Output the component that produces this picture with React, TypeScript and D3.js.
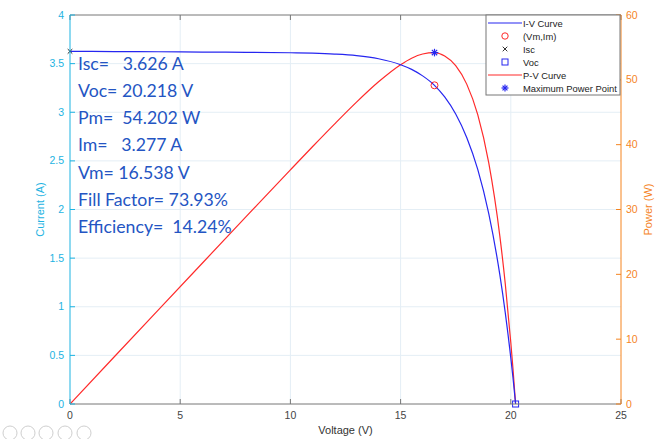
import React from "react"
import * as d3 from "d3"

// values
const voltage = [0, 2, 4, 6, 8, 10, 11, 12, 13, 14, 15, 15.5, 16, 16.538, 17, 17.5, 18, 18.5, 19, 19.5, 19.75, 20, 20.1, 20.218]
const current = [3.626, 3.624, 3.622, 3.619, 3.616, 3.612, 3.607, 3.598, 3.582, 3.55, 3.489, 3.441, 3.374, 3.277, 3.157, 2.982, 2.741, 2.412, 1.957, 1.332, 0.937, 0.474, 0.268, 0]
const power = [0, 7.248, 14.488, 21.714, 28.928, 36.12, 39.677, 43.176, 46.566, 49.7, 52.335, 53.336, 53.984, 54.202, 53.669, 52.185, 49.338, 44.622, 37.183, 25.974, 18.506, 9.48, 5.387, 0]

const xTicks = [0, 5, 10, 15, 20, 25]
const currentTicks = [0, 0.5, 1, 1.5, 2, 2.5, 3, 3.5, 4]
const powerTicks = [0, 10, 20, 30, 40, 50, 60]

const isc = 3.626
const voc = 20.218
const vm = 16.538
const im = 3.277
const pm = 54.202

const stats = [
  "Isc=   3.626 A",
  "Voc= 20.218 V",
  "Pm=  54.202 W",
  "Im=   3.277 A",
  "Vm= 16.538 V",
  "Fill Factor= 73.93%",
  "Efficiency=  14.24%",
]

const legendItems = ["I-V Curve", "(Vm,Im)", "Isc", "Voc", "P-V Curve", "Maximum Power Point"]

const W = 664
const H = 439
const left = 70
const right = 621
const top = 15
const bottom = 404

const CYAN = "#1db3e2"
const ORANGE = "#f5841f"
const BLUE = "#2626f0"
const RED = "#ff2a2a"
const TEXT_BLUE = "#2455c3"
const font = "'Liberation Sans', Arial, sans-serif"

export default function App() {
  const x = d3.scaleLinear().domain([0, 25]).range([left, right])
  const yI = d3.scaleLinear().domain([0, 4]).range([bottom, top])
  const yP = d3.scaleLinear().domain([0, 60]).range([bottom, top])

  const ivLine = d3.line<number>()
    .x((_, i) => x(voltage[i]))
    .y(d => yI(d))
    .curve(d3.curveMonotoneX)
  const pvLine = d3.line<number>()
    .x((_, i) => x(voltage[i]))
    .y(d => yP(d))
    .curve(d3.curveMonotoneX)

  const asterisk = (cx: number, cy: number, r: number, color: string) => (
    <g stroke={color} strokeWidth={1.2}>
      <line x1={cx - r} y1={cy} x2={cx + r} y2={cy} />
      <line x1={cx} y1={cy - r} x2={cx} y2={cy + r} />
      <line x1={cx - r * 0.7} y1={cy - r * 0.7} x2={cx + r * 0.7} y2={cy + r * 0.7} />
      <line x1={cx - r * 0.7} y1={cy + r * 0.7} x2={cx + r * 0.7} y2={cy - r * 0.7} />
    </g>
  )
  const cross = (cx: number, cy: number, r: number, color: string) => (
    <g stroke={color} strokeWidth={1}>
      <line x1={cx - r} y1={cy - r} x2={cx + r} y2={cy + r} />
      <line x1={cx - r} y1={cy + r} x2={cx + r} y2={cy - r} />
    </g>
  )

  // legend layout
  const lgX = 486, lgY = 15, lgW = 134, lgH = 80, rowH = 13
  const legendMarker = (i: number, cy: number) => {
    const mx = 505
    if (i === 0) return <line x1={488} x2={522} y1={cy} y2={cy} stroke={BLUE} strokeWidth={1.2} />
    if (i === 1) return <circle cx={mx} cy={cy} r={3.2} fill="none" stroke={RED} strokeWidth={1} />
    if (i === 2) return cross(mx, cy, 2.3, "#333")
    if (i === 3) return <rect x={mx - 3} y={cy - 3} width={6} height={6} fill="none" stroke={BLUE} strokeWidth={1} />
    if (i === 4) return <line x1={488} x2={522} y1={cy} y2={cy} stroke={RED} strokeWidth={1.2} />
    return asterisk(mx, cy, 3.5, BLUE)
  }

  const icons = [10, 28, 46, 65, 84]

  return (
    <div style={{ position: "absolute", left: 0, top: 0 }}>
      <svg width={W} height={H} style={{ display: "block", background: "#fff" }} fontFamily={font}>
        {/* grid */}
        <g stroke="#e4eef5" strokeWidth={1}>
          {xTicks.slice(1, -1).map(t => (
            <line key={"gx" + t} x1={x(t)} x2={x(t)} y1={top} y2={bottom} />
          ))}
          {currentTicks.slice(1, -1).map(t => (
            <line key={"gy" + t} x1={left} x2={right} y1={yI(t)} y2={yI(t)} />
          ))}
        </g>

        {/* curves */}
        <path d={pvLine(power) ?? ""} fill="none" stroke={RED} strokeWidth={1.2} />
        <path d={ivLine(current) ?? ""} fill="none" stroke={BLUE} strokeWidth={1.2} />

        {/* markers */}
        <circle cx={x(vm)} cy={yI(im)} r={3.5} fill="none" stroke={RED} strokeWidth={1} />
        {cross(x(0), yI(isc), 2.3, "#222")}
        <rect x={x(voc) - 3} y={yI(0) - 3} width={6} height={6} fill="none" stroke={BLUE} strokeWidth={1} />
        {asterisk(x(vm), yP(pm), 3.8, BLUE)}

        {/* frame */}
        <line x1={left} x2={right} y1={top} y2={top} stroke="#777" strokeWidth={1} />
        <line x1={left} x2={right} y1={bottom} y2={bottom} stroke="#777" strokeWidth={1} />

        {/* bottom axis */}
        {xTicks.map(t => (
          <g key={"xt" + t}>
            <line x1={x(t)} x2={x(t)} y1={bottom} y2={bottom - 5} stroke="#777" />
            <line x1={x(t)} x2={x(t)} y1={top} y2={top + 5} stroke="#777" />
            <text x={x(t)} y={bottom + 15} textAnchor="middle" fontSize={10.5} fill="#444">{t}</text>
          </g>
        ))}
        <text x={(left + right) / 2} y={434} textAnchor="middle" fontSize={11} fill="#333">Voltage (V)</text>

        {/* left axis */}
        <line x1={left} x2={left} y1={top} y2={bottom} stroke={CYAN} strokeWidth={1} />
        {currentTicks.map(t => (
          <g key={"yl" + t}>
            <line x1={left} x2={left + 5} y1={yI(t)} y2={yI(t)} stroke={CYAN} />
            <text x={left - 6} y={yI(t) + 3.5} textAnchor="end" fontSize={10.5} fill={CYAN}>{t}</text>
          </g>
        ))}
        <text transform={`translate(44,${(top + bottom) / 2}) rotate(-90)`} textAnchor="middle" fontSize={11} fill={CYAN}>Current (A)</text>

        {/* right axis */}
        <line x1={right} x2={right} y1={top} y2={bottom} stroke={ORANGE} strokeWidth={1} />
        {powerTicks.map(t => (
          <g key={"yr" + t}>
            <line x1={right} x2={right - 5} y1={yP(t)} y2={yP(t)} stroke={ORANGE} />
            <text x={right + 5} y={yP(t) + 3.5} textAnchor="start" fontSize={10.5} fill={ORANGE}>{t}</text>
          </g>
        ))}
        <text transform={`translate(652,${(top + bottom) / 2}) rotate(-90)`} textAnchor="middle" fontSize={11} fill={ORANGE}>Power (W)</text>

        {/* result text */}
        {stats.map((s, i) => (
          <text key={s} x={78} y={69.5 + i * 27.3} fontSize={17.7} fill={TEXT_BLUE}
            fontFamily="Lato, 'Open Sans', sans-serif" style={{ whiteSpace: "pre" }}>{s}</text>
        ))}

        {/* legend */}
        <rect x={lgX} y={lgY} width={lgW} height={lgH} fill="#fff" stroke="#777" strokeWidth={1} />
        {legendItems.map((s, i) => {
          const cy = lgY + 8 + i * rowH
          return (
            <g key={s}>
              {legendMarker(i, cy)}
              <text x={523} y={cy + 3.5} fontSize={9.4} fill="#222">{s}</text>
            </g>
          )
        })}

        {/* axes toolbar (faded) */}
        <g stroke="#cfcfcf" fill="none" strokeWidth={1}>
          {icons.map(cx => <circle key={cx} cx={cx} cy={433} r={7} />)}
        </g>
      </svg>
    </div>
  )
}
